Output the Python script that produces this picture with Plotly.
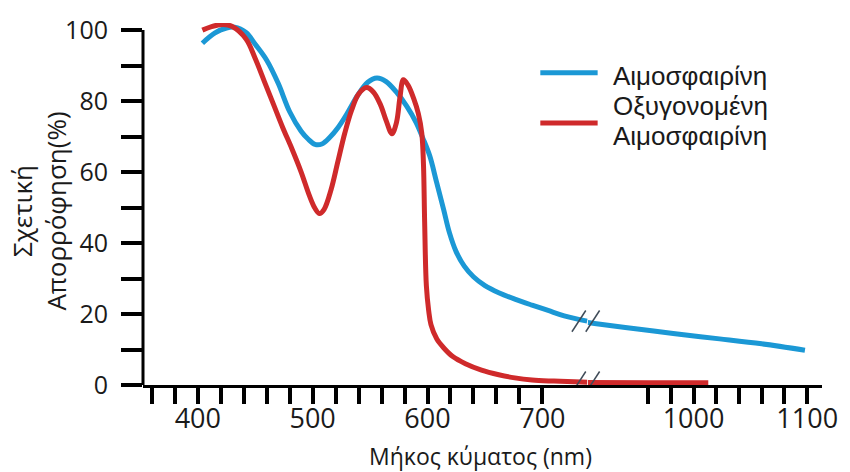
import plotly.graph_objects as go

# Absorption spectra of haemoglobin, visible part (350-740 nm) and near-IR part (900-1110 nm)
hb_nm_vis = [404, 415, 425, 432, 442, 450, 460, 470, 480, 490, 496, 502, 508, 515, 522,
             530, 539, 548, 556, 564, 573, 582, 590, 596, 602, 608, 614, 619, 625, 632,
             640, 650, 662, 676, 691, 705, 719, 739]
hb_abs_vis = [96.3, 99.2, 100.6, 100.8, 99.3, 96.0, 91.5, 85.0, 77.0, 71.5, 69.3, 67.8, 67.9, 69.8, 72.5,
              76.5, 81.5, 85.3, 86.5, 85.5, 82.5, 78.5, 74.0, 69.5, 64.5, 57.0, 49.5, 43.0, 37.5, 33.5,
              30.5, 28.0, 26.0, 24.2, 22.5, 21.0, 19.5, 18.0]
hb_nm_ir = [907, 913, 940, 965, 995, 1023, 1060, 1098]
hb_abs_ir = [17.6, 17.3, 16.2, 15.2, 14.0, 13.0, 11.6, 9.8]

hbo2_nm_vis = [404, 412, 422, 430, 442, 450, 458, 466, 474, 482, 490, 497, 502, 506, 510,
               516, 522, 528, 534, 540, 547, 553, 559, 564, 569, 573, 576, 579, 583, 588,
               592, 595, 596.5, 597.5, 599, 601, 603, 608, 614, 622, 633, 647, 662, 676,
               691, 710, 728, 739]
hbo2_abs_vis = [100.0, 101.0, 101.6, 101.0, 97.5, 92.0, 85.5, 79.0, 72.5, 66.5, 60.0, 53.5, 49.8, 48.3, 49.5,
                55.0, 63.0, 71.0, 77.5, 82.0, 83.8, 82.5, 79.0, 74.5, 70.8, 74.0, 81.0, 86.0, 84.5, 80.7,
                76.5, 71.0, 62.0, 46.0, 28.0, 21.0, 17.0, 13.0, 10.5, 8.0, 6.0, 4.2, 2.9, 2.0,
                1.4, 1.1, 0.9, 0.8]
hbo2_nm_ir = [907, 960, 1013]
hbo2_abs_ir = [0.7, 0.6, 0.6]

series_names = ["Αιμοσφαιρίνη", "Οξυγονομένη", "Αιμοσφαιρίνη"]
series_colors = ["#1b98d5", "#cf2a2b"]

x_ticks_vis = list(range(360, 701, 20))
x_labels_vis = {400: "400", 500: "500", 600: "600", 700: "700"}
x_ticks_ir = list(range(960, 1101, 20))
x_labels_ir = {1000: "1000", 1100: "1100"}
y_ticks = list(range(0, 101, 10))
y_labels = {0: "0", 20: "20", 40: "40", 60: "60", 80: "80", 100: "100"}

x_range_vis = [352.3, 739.5]
x_range_ir = [907, 1113]
split = 0.655

W, H = 850, 472
ML, MR, MT, MB = 143, 20, 16, 87
plot_w = W - ML - MR
plot_h = H - MT - MB

tick_font = dict(family="Open Sans", size=27, color="#1a1a1a")

fig = go.Figure()
for nm, ab, col, xa in [
    (hb_nm_vis, hb_abs_vis, series_colors[0], "x"),
    (hb_nm_ir, hb_abs_ir, series_colors[0], "x2"),
    (hbo2_nm_vis, hbo2_abs_vis, series_colors[1], "x"),
    (hbo2_nm_ir, hbo2_abs_ir, series_colors[1], "x2"),
]:
    fig.add_trace(go.Scatter(
        x=nm, y=ab, xaxis=xa, yaxis="y", mode="lines",
        line=dict(color=col, width=5, shape="spline", smoothing=1.0),
        showlegend=False, hoverinfo="skip",
    ))

axis_common = dict(
    showline=True, linecolor="black", linewidth=3,
    ticks="outside", ticklen=16, tickwidth=4, tickcolor="black",
    showgrid=False, zeroline=False, tickfont=tick_font, ticklabelstandoff=-8,
)
fig.update_layout(
    width=W, height=H,
    margin=dict(l=ML, r=MR, t=MT, b=MB),
    paper_bgcolor="white", plot_bgcolor="white",
    xaxis=dict(domain=[0, split], range=x_range_vis, anchor="y",
               tickvals=x_ticks_vis, ticktext=[x_labels_vis.get(v, "") for v in x_ticks_vis],
               **axis_common),
    xaxis2=dict(domain=[split, 1], range=x_range_ir, anchor="y",
                tickvals=x_ticks_ir, ticktext=[x_labels_ir.get(v, "") for v in x_ticks_ir],
                **axis_common),
    yaxis=dict(range=[0, 102], showline=False, showgrid=False, zeroline=False,
               tickvals=y_ticks, ticktext=[y_labels.get(v, "") for v in y_ticks],
               ticks="outside", ticklen=21, tickwidth=3.5, tickcolor="black",
               tickfont=dict(family="Open Sans", size=25, color="#1a1a1a"),
               ticklabelstandoff=8),
)

# y axis line stops at 100
fig.add_shape(type="line", xref="paper", yref="y", x0=0, x1=0, y0=0, y1=100,
              line=dict(color="black", width=3))

# axis-break marks where each curve crosses the gap
def px(dx):
    return dx / plot_w

for yv in (hb_abs_vis[-1], hbo2_abs_vis[-1]):
    for off in (-9, 5):
        fig.add_shape(type="line", xref="paper", yref="y",
                      x0=split + px(off - 7), x1=split + px(off + 7),
                      y0=yv - 3.0, y1=yv + 3.0,
                      line=dict(color="#3f4b58", width=1.5))

# axis titles
fig.add_annotation(text="Μήκος κύματος (nm)", xref="paper", yref="paper",
                   x=(484 - ML) / plot_w, y=(H - MB - 457) / plot_h,
                   xanchor="center", yanchor="middle", showarrow=False,
                   font=dict(family="Open Sans", size=23, color="#1a1a1a"))
fig.add_annotation(text="Σχετική<br>Απορρόφηση(%)", xref="paper", yref="paper",
                   x=(38 - ML) / plot_w, y=(H - MB - 208) / plot_h,
                   xanchor="center", yanchor="middle", textangle=-90, showarrow=False,
                   font=dict(family="Open Sans", size=26, color="#1a1a1a"))

# legend
def py(ypix):
    return (H - MB - ypix) / plot_h

for ypix, col in [(66.7, series_colors[0]), (118, series_colors[1])]:
    fig.add_shape(type="line", xref="paper", yref="paper",
                  x0=(545 - ML) / plot_w, x1=(603 - ML) / plot_w, y0=py(ypix), y1=py(ypix),
                  line=dict(color=col, width=5))
for name, ypix in zip(series_names, [70, 101, 131]):
    fig.add_annotation(text=name, xref="paper", yref="paper",
                       x=(617 - ML) / plot_w, y=py(ypix), xanchor="left", yanchor="middle",
                       showarrow=False,
                       font=dict(family="Liberation Sans", size=26, color="#1a1a1a"))

fig.write_html("out.html")
